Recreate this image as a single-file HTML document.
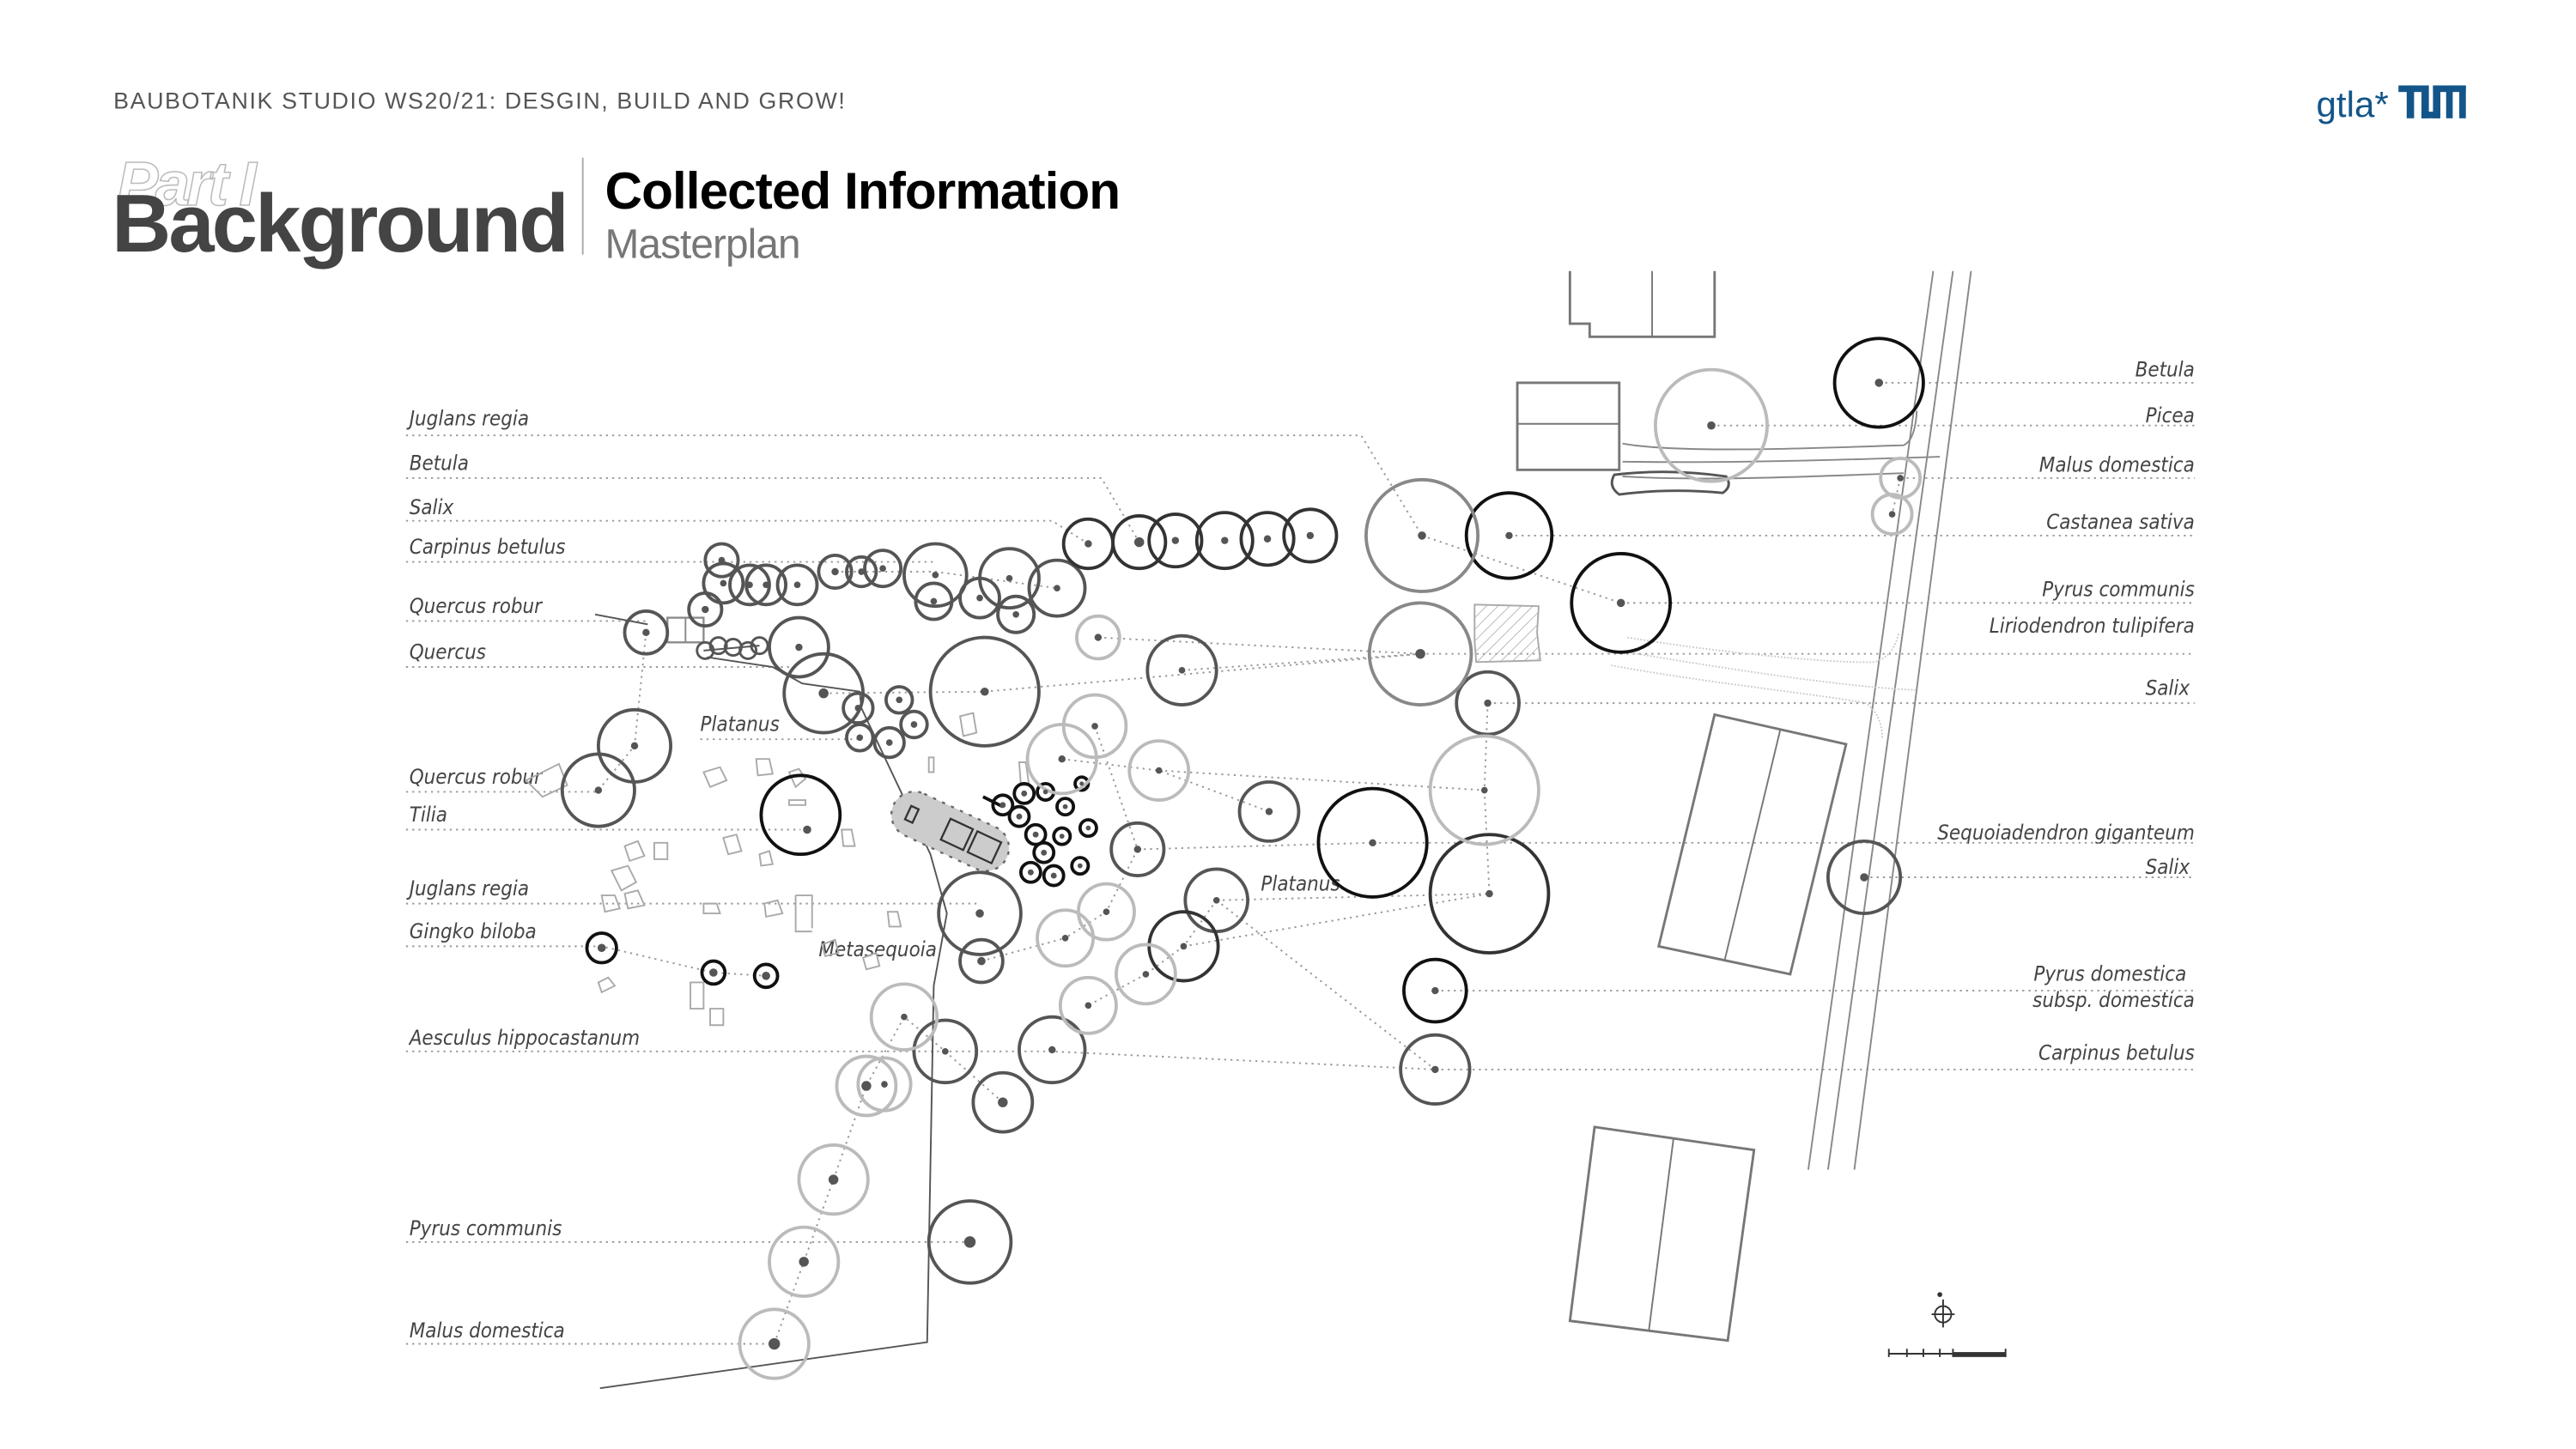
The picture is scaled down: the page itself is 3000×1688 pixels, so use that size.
<!DOCTYPE html>
<html><head><meta charset="utf-8"><style>
html,body{margin:0;padding:0;background:#fff;}
svg{display:block}
.l{font-family:"DejaVu Sans Condensed","Liberation Sans",sans-serif;font-style:italic;font-size:12.5px;fill:#444;font-weight:300}
.d{stroke:#999;stroke-width:1;stroke-dasharray:1.2 2.6;fill:none}
.c{fill:none;stroke-width:2}
.p{fill:#555}
</style></head><body>
<svg width="3000" height="1688" viewBox="0 0 1567 882" preserveAspectRatio="none" xmlns="http://www.w3.org/2000/svg">
<rect width="1567" height="882" fill="#fff"/>
<!-- header -->
<text x="69" y="66" font-family="Liberation Sans,sans-serif" font-size="14" fill="#555" letter-spacing="0.85">BAUBOTANIK STUDIO WS20/21: DESGIN, BUILD AND GROW!</text>
<text x="71" y="125" font-family="Liberation Sans,sans-serif" font-size="38" font-style="italic" font-weight="bold" fill="none" stroke="#bbb" stroke-width="0.8" letter-spacing="-2">Part I</text>
<text x="68" y="153" font-family="Liberation Sans,sans-serif" font-size="50" font-weight="bold" fill="#444" letter-spacing="-1.5">Background</text>
<line x1="354.5" y1="96" x2="354.5" y2="155" stroke="#aaa" stroke-width="1"/>
<text x="368" y="127" font-family="Liberation Sans,sans-serif" font-size="31.5" font-weight="bold" fill="#000" letter-spacing="-0.5">Collected Information</text>
<text x="368" y="157" font-family="Liberation Sans,sans-serif" font-size="25" fill="#777" letter-spacing="-0.5">Masterplan</text>
<text x="1409" y="71" font-family="Liberation Sans,sans-serif" font-size="22" fill="#135589">gtla*</text>
<g fill="#135589"><rect x="1459" y="52" width="14" height="4"/><rect x="1464" y="52" width="4.5" height="20"/><rect x="1473" y="52" width="4.5" height="20"/><rect x="1473" y="68" width="11" height="4"/><rect x="1480" y="52" width="4.5" height="20"/><rect x="1480" y="52" width="20" height="4"/><rect x="1488" y="52" width="4" height="20"/><rect x="1496" y="52" width="4" height="20"/></g>

<!-- left labels & leaders -->
<g class="l">
<text x="249" y="259">Juglans regia</text>
<text x="249" y="286">Betula</text>
<text x="249" y="313">Salix</text>
<text x="249" y="337">Carpinus betulus</text>
<text x="249" y="373">Quercus robur</text>
<text x="249" y="401">Quercus</text>
<text x="426" y="445">Platanus</text>
<text x="249" y="477">Quercus robur</text>
<text x="249" y="500">Tilia</text>
<text x="249" y="545">Juglans regia</text>
<text x="249" y="571">Gingko biloba</text>
<text x="249" y="636">Aesculus hippocastanum</text>
<text x="249" y="752">Pyrus communis</text>
<text x="249" y="814">Malus domestica</text>
<text x="498" y="582">Metasequoia</text>
<text x="767" y="542">Platanus</text>
</g>
<g class="l" text-anchor="end">
<text x="1335" y="229">Betula</text>
<text x="1335" y="257">Picea</text>
<text x="1335" y="287">Malus domestica</text>
<text x="1335" y="322">Castanea sativa</text>
<text x="1335" y="363">Pyrus communis</text>
<text x="1335" y="385">Liriodendron tulipifera</text>
<text x="1332" y="423">Salix</text>
<text x="1335" y="511">Sequoiadendron giganteum</text>
<text x="1332" y="532">Salix</text>
<text x="1330" y="597">Pyrus domestica</text>
<text x="1335" y="613">subsp. domestica</text>
<text x="1335" y="645">Carpinus betulus</text>
</g>
<g class="d">
<path d="M247,265 H828 L865,326"/>
<path d="M247,291 H670 L693,330"/>
<path d="M247,317 H640 L662,331"/>
<path d="M247,342 H569"/>
<path d="M247,378 H393 M393,385 L386,454 L364,481"/>
<path d="M247,406 H486"/>
<path d="M426,450 H523"/>
<path d="M247,482 H364"/>
<path d="M247,505 H487"/>
<path d="M247,550 H596"/>
<path d="M247,576 H366 L434,592 L466,594"/>
<path d="M247,640 H640 L873,651"/>
<path d="M247,756 H590"/>
<path d="M247,818 H471 L489,768 L507,718 L527,661 L550,619 L575,640 L610,671"/>
<path d="M1143,233 H1335"/>
<path d="M1041,259 H1335"/>
<path d="M1156,291 H1335 M1156,291 L1151,313"/>
<path d="M918,326 H1335 M865,326 L986,367"/>
<path d="M986,367 H1335"/>
<path d="M864,398 H1335"/>
<path d="M905,428 H1335 M905,428 L903,481 L906,544"/>
<path d="M835,513 H1335 M692,517 L835,513"/>
<path d="M1134,534 H1335 M740,548 L906,544"/>
<path d="M873,603 H1335"/>
<path d="M873,651 H1335 M740,548 L873,651"/>
<path d="M599,421 L864,398 M719,408 L864,398 M668,388 L864,398"/>
<path d="M646,462 L705,469 L772,494 M705,469 L903,481"/>
<path d="M666,442 L692,517 L673,555 L648,571 M720,576 L906,544 M697,593 L662,612"/>
<path d="M720,576 L697,593 M740,548 L720,576"/>
<path d="M508,348 H569 L643,358 M501,422 L599,421"/>
<path d="M597,585 L648,571"/>
</g>

<!-- boundary path -->
<path d="M362,374 L394,380 M428,396 L462,393 M430,400 L470,406 L488,416 L523,421 L524,431 L566,520 L576,556 L568,600 L564,817 L365,845" fill="none" stroke="#555" stroke-width="1"/>
<rect x="406" y="376" width="22" height="15" fill="none" stroke="#888" stroke-width="1.2"/>
<line x1="417" y1="376" x2="417" y2="391" stroke="#888"/>

<!-- road -->
<g fill="none" stroke="#888" stroke-width="1">
<path d="M1176,165 L1100,712"/><path d="M1188,165 L1112,712"/><path d="M1199,165 L1128,712"/>
<path d="M987,270 C1020,276 1100,273 1158,271 Q1165,268 1166,250"/>
<path d="M987,281 C1050,282 1120,280 1180,278"/>
<path d="M987,290 C1040,293 1100,290 1158,288"/>
</g>
<g fill="none" stroke="#ccc" stroke-width="1" stroke-dasharray="1 1">
<path d="M990,388 C1050,398 1120,404 1140,403 Q1152,400 1155,385"/>
<path d="M990,397 C1050,407 1120,418 1165,420"/>
<path d="M980,405 C1040,416 1110,423 1135,428 Q1145,435 1145,450"/>
</g>

<!-- buildings -->
<g fill="none" stroke="#777" stroke-width="1.5">
<path d="M955,165 V197 H967 V205 H1043 V165"/><line x1="1005" y1="165" x2="1005" y2="205" stroke-width="1"/>
<rect x="923" y="233" width="62" height="53"/><line x1="923" y1="258" x2="985" y2="258" stroke-width="1"/>
<path d="M1043,435 L1123,453 L1089,593 L1009,576 Z"/><line x1="1083" y1="444" x2="1049" y2="585" stroke-width="1"/>
<path d="M970,686 L1067,700 L1051,816 L955,804 Z"/><line x1="1018" y1="693" x2="1003" y2="810" stroke-width="1"/>
<path d="M982,289 Q1015,285 1050,290 Q1054,296 1048,300 Q1015,297 985,301 Q978,296 982,289 Z" stroke="#555"/>
</g>
<defs><pattern id="h" width="5" height="5" patternUnits="userSpaceOnUse" patternTransform="rotate(45)"><line x1="0" y1="0" x2="0" y2="5" stroke="#aaa" stroke-width="0.8"/></pattern></defs>
<path d="M897,368 L936,369 L935,385 L937,402 L898,403 L897,390 Z" fill="url(#h)" stroke="#aaa"/>

<!-- grey pill -->
<g transform="rotate(25 578 506)">
<rect x="540" y="492" width="76" height="28" rx="14" fill="#ccc" stroke="#666" stroke-width="1.2" stroke-dasharray="2 4"/>
<rect x="550" y="502" width="5" height="9" fill="none" stroke="#333" stroke-width="1.2"/>
<rect x="575" y="499" width="15" height="14" fill="none" stroke="#333" stroke-width="1.2"/>
<rect x="593" y="499" width="16" height="14" fill="none" stroke="#333" stroke-width="1.2"/>
</g>
<line x1="598" y1="485" x2="610" y2="491" stroke="#111" stroke-width="2"/>

<!-- scattered stones -->
<g fill="none" stroke="#aaa" stroke-width="1">
<path d="M320,475 L340,465 L345,478 L330,485 Z"/>
<path d="M428,470 l10,-3 l4,8 l-10,4 z"/><path d="M460,462 l8,0 l2,9 l-9,1 z"/>
<path d="M480,470 l6,-2 l4,6 l-6,5 z"/><path d="M380,515 l8,-3 l4,9 l-9,3 z"/><path d="M398,513 l8,0 l0,10 l-8,0 z"/>
<path d="M372,530 l10,-3 l5,10 l-9,5 z"/><path d="M366,545 l8,0 l3,8 l-9,2 z"/><path d="M380,544 l8,-2 l4,9 l-10,2 z"/>
<path d="M440,510 l8,-2 l3,10 l-8,2 z"/><path d="M428,550 l8,0 l2,6 l-10,0 z"/><path d="M465,550 l8,-2 l3,8 l-10,2 z"/>
<path d="M540,555 l6,0 l2,9 l-7,0 z"/><path d="M364,598 l6,-3 l4,5 l-8,4 z"/><path d="M420,598 l8,0 l0,16 l-8,0 z"/><path d="M432,614 l8,0 l0,10 l-8,0 z"/>
<path d="M484,545 l10,0 l0,20 M484,545 l0,22 l10,0"/><path d="M565,461 l3,0 l0,9 l-3,0 z"/><path d="M584,436 l8,-2 l2,12 l-8,2 z"/>
<path d="M480,487 l10,0 l0,3 l-10,0 z"/><path d="M512,505 l6,0 l2,10 l-7,0 z"/><path d="M462,520 l6,-2 l2,8 l-7,1 z"/>
<path d="M620,464 l4,0 l2,14 l-5,0 z"/><path d="M500,575 l8,-3 l2,8 l-8,2 z"/><path d="M525,583 l8,-3 l2,8 l-8,2 z"/>
</g>

<!-- trees -->
<g class="c">
<g stroke="#555">
<circle cx="439" cy="341" r="10"/><circle cx="440" cy="355" r="12"/><circle cx="456" cy="356" r="12"/><circle cx="466" cy="356" r="12"/><circle cx="485" cy="356" r="12"/>
<circle cx="508" cy="348" r="10"/><circle cx="524" cy="348" r="9"/><circle cx="537" cy="346" r="11"/><circle cx="569" cy="350" r="19"/><circle cx="568" cy="366" r="11"/>
<circle cx="596" cy="364" r="12"/><circle cx="614" cy="352" r="18"/><circle cx="618" cy="374" r="11"/><circle cx="643" cy="358" r="17"/><circle cx="429" cy="371" r="10"/>
<circle cx="393" cy="385" r="13"/><circle cx="486" cy="394" r="18"/><circle cx="501" cy="422" r="24"/><circle cx="599" cy="421" r="33"/>
<circle cx="522" cy="431" r="9"/><circle cx="547" cy="426" r="8"/><circle cx="556" cy="441" r="8"/><circle cx="523" cy="449" r="8"/><circle cx="541" cy="452" r="9"/>
<circle cx="719" cy="408" r="21"/><circle cx="772" cy="494" r="18"/><circle cx="692" cy="517" r="16"/><circle cx="740" cy="548" r="19"/>
<circle cx="596" cy="556" r="25"/><circle cx="597" cy="585" r="13"/><circle cx="386" cy="454" r="22"/><circle cx="364" cy="481" r="22"/>
<circle cx="575" cy="640" r="19"/><circle cx="640" cy="639" r="20"/><circle cx="610" cy="671" r="18"/><circle cx="590" cy="756" r="25"/>
<circle cx="873" cy="651" r="21"/><circle cx="1134" cy="534" r="22"/><circle cx="905" cy="428" r="19"/>
<circle cx="429" cy="396" r="5" stroke-width="1.5"/><circle cx="437" cy="393" r="5" stroke-width="1.5"/><circle cx="446" cy="394" r="5" stroke-width="1.5"/><circle cx="455" cy="396" r="5" stroke-width="1.5"/><circle cx="462" cy="393" r="5" stroke-width="1.5"/>
</g>
<g stroke="#333">
<circle cx="662" cy="331" r="15"/><circle cx="693" cy="330" r="16"/><circle cx="715" cy="329" r="16"/><circle cx="745" cy="329" r="17"/><circle cx="771" cy="328" r="16"/><circle cx="797" cy="326" r="16"/>
<circle cx="720" cy="576" r="21"/><circle cx="906" cy="544" r="36"/>
</g>
<g stroke="#111">
<circle cx="918" cy="326" r="26"/><circle cx="1143" cy="233" r="27"/><circle cx="986" cy="367" r="30"/><circle cx="835" cy="513" r="33"/><circle cx="873" cy="603" r="19"/>
<circle cx="487" cy="496" r="24"/><circle cx="366" cy="577" r="9"/><circle cx="434" cy="592" r="7"/><circle cx="466" cy="594" r="7"/>
<circle cx="610" cy="490" r="6"/><circle cx="623" cy="483" r="6"/><circle cx="636" cy="482" r="5"/><circle cx="620" cy="497" r="6"/><circle cx="648" cy="491" r="5"/>
<circle cx="630" cy="508" r="6"/><circle cx="646" cy="509" r="5"/><circle cx="662" cy="504" r="5"/><circle cx="635" cy="519" r="6"/><circle cx="657" cy="527" r="5"/>
<circle cx="627" cy="531" r="6"/><circle cx="641" cy="533" r="6"/><circle cx="658" cy="477" r="4"/>
</g>
<g stroke="#888"><circle cx="865" cy="326" r="34"/><circle cx="864" cy="398" r="31"/></g>
<g stroke="#bbb">
<circle cx="1041" cy="259" r="34"/><circle cx="1156" cy="291" r="12"/><circle cx="1151" cy="313" r="12"/><circle cx="903" cy="481" r="33"/>
<circle cx="668" cy="388" r="13"/><circle cx="666" cy="442" r="19"/><circle cx="646" cy="462" r="21"/><circle cx="705" cy="469" r="18"/>
<circle cx="697" cy="593" r="18"/><circle cx="673" cy="555" r="17"/><circle cx="648" cy="571" r="17"/><circle cx="662" cy="612" r="17"/>
<circle cx="550" cy="619" r="20"/><circle cx="527" cy="661" r="18"/><circle cx="538" cy="660" r="16"/><circle cx="507" cy="718" r="21"/><circle cx="489" cy="768" r="21"/><circle cx="471" cy="818" r="21"/>
</g>
</g>
<!-- center dots -->
<g class="p">
<circle cx="662" cy="331" r="2.2"/><circle cx="693" cy="330" r="3"/><circle cx="715" cy="329" r="2.2"/><circle cx="745" cy="329" r="2.2"/><circle cx="771" cy="328" r="2.2"/><circle cx="797" cy="326" r="2.2"/>
<circle cx="865" cy="326" r="2.5"/><circle cx="918" cy="326" r="2.2"/><circle cx="1041" cy="259" r="2.5"/><circle cx="1143" cy="233" r="2.5"/><circle cx="1156" cy="291" r="2"/><circle cx="1151" cy="313" r="2"/>
<circle cx="986" cy="367" r="2.5"/><circle cx="864" cy="398" r="3"/><circle cx="905" cy="428" r="2.2"/><circle cx="903" cy="481" r="2"/><circle cx="906" cy="544" r="2.2"/><circle cx="835" cy="513" r="2.2"/>
<circle cx="873" cy="603" r="2.2"/><circle cx="873" cy="651" r="2.2"/><circle cx="1134" cy="534" r="2.5"/>
<circle cx="439" cy="341" r="2"/><circle cx="440" cy="355" r="2"/><circle cx="456" cy="356" r="2"/><circle cx="466" cy="356" r="2"/><circle cx="485" cy="356" r="2"/><circle cx="508" cy="348" r="2.2"/><circle cx="524" cy="348" r="2"/><circle cx="537" cy="346" r="2"/>
<circle cx="569" cy="350" r="2"/><circle cx="568" cy="366" r="2"/><circle cx="596" cy="364" r="2"/><circle cx="614" cy="352" r="2"/><circle cx="618" cy="374" r="2"/><circle cx="643" cy="358" r="2"/><circle cx="429" cy="371" r="2.2"/>
<circle cx="393" cy="385" r="2.2"/><circle cx="486" cy="394" r="2.2"/><circle cx="501" cy="422" r="3"/><circle cx="599" cy="421" r="2.5"/><circle cx="522" cy="431" r="2"/><circle cx="547" cy="426" r="2"/><circle cx="556" cy="441" r="2"/><circle cx="523" cy="449" r="2"/><circle cx="541" cy="452" r="2"/>
<circle cx="668" cy="388" r="2.2"/><circle cx="719" cy="408" r="2"/><circle cx="666" cy="442" r="2"/><circle cx="646" cy="462" r="2.2"/><circle cx="705" cy="469" r="2"/><circle cx="772" cy="494" r="2.2"/><circle cx="692" cy="517" r="2.2"/>
<circle cx="740" cy="548" r="2"/><circle cx="720" cy="576" r="2"/><circle cx="697" cy="593" r="2"/><circle cx="673" cy="555" r="2"/><circle cx="648" cy="571" r="2"/><circle cx="662" cy="612" r="2"/>
<circle cx="596" cy="556" r="2.5"/><circle cx="597" cy="585" r="2.5"/><circle cx="550" cy="619" r="2"/><circle cx="575" cy="640" r="2"/><circle cx="640" cy="639" r="2.2"/><circle cx="610" cy="671" r="3"/>
<circle cx="527" cy="661" r="3"/><circle cx="538" cy="660" r="2"/><circle cx="507" cy="718" r="3"/><circle cx="489" cy="768" r="3"/><circle cx="471" cy="818" r="3.5"/><circle cx="590" cy="756" r="3.5"/>
<circle cx="386" cy="454" r="2.2"/><circle cx="364" cy="481" r="2.2"/><circle cx="491" cy="505" r="2.5"/><circle cx="366" cy="577" r="2.5"/><circle cx="434" cy="592" r="2.5"/><circle cx="466" cy="594" r="2.5"/>
<circle cx="610" cy="490" r="1.8"/><circle cx="623" cy="483" r="1.8"/><circle cx="636" cy="482" r="1.5"/><circle cx="620" cy="497" r="1.8"/><circle cx="648" cy="491" r="1.5"/><circle cx="630" cy="508" r="1.8"/><circle cx="646" cy="509" r="1.5"/>
<circle cx="662" cy="504" r="1.5"/><circle cx="635" cy="519" r="1.8"/><circle cx="657" cy="527" r="1.5"/><circle cx="627" cy="531" r="1.8"/><circle cx="641" cy="533" r="1.8"/><circle cx="658" cy="477" r="1.3"/>
</g>

<!-- compass & scale -->
<g stroke="#333" fill="none" stroke-width="1">
<circle cx="1182" cy="800" r="5"/><line x1="1182" y1="791" x2="1182" y2="808"/><line x1="1175" y1="800" x2="1189" y2="800"/>
<circle cx="1180" cy="788" r="1" fill="#333"/>
<path d="M1149,824 H1220 M1149,821 V826 M1160,821 V826 M1170,821 V826 M1180,821 V826 M1188,821 V826 M1220,821 V826"/>
</g>
<rect x="1188" y="823" width="32" height="3" fill="#333"/>
</svg>
</body></html>
